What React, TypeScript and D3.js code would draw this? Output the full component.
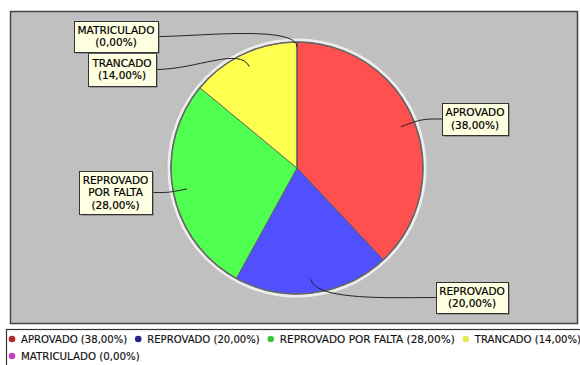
import { arc, pie, PieArcDatum } from 'd3';

const categories = ['APROVADO', 'REPROVADO', 'REPROVADO POR FALTA', 'TRANCADO', 'MATRICULADO'];
const percentages = [38, 20, 28, 14, 0];
const sliceColors = ['#FF5050', '#5050FF', '#50FF50', '#FFFF50', '#FF50FF'];
const legendColors = ['#B02828', '#23238C', '#3CC83C', '#E6E650', '#C040C0'];
// callout label lines, one entry per category
const calloutLines = [
  ['APROVADO', '(38,00%)'],
  ['REPROVADO', '(20,00%)'],
  ['REPROVADO', 'POR FALTA', '(28,00%)'],
  ['TRANCADO', '(14,00%)'],
  ['MATRICULADO', '(0,00%)'],
];

// box layout for the callouts (x, y, width, height)
const calloutBoxes = [
  [442, 103, 66, 32],
  [436, 282, 72, 31],
  [79, 171, 73, 43],
  [88, 53, 68, 33],
  [74, 21, 84, 31],
];

const fmt = (v: number) => `${v.toFixed(2).replace('.', ',')}%`;

export default function App() {
  const width = 580;
  const height = 365;
  const cx = 297;
  const cy = 168;
  const radius = 126;
  const font = '"DejaVu Sans", Verdana, sans-serif';

  const rows = categories.map((name, i) => ({ name, value: percentages[i], index: i }));
  const arcs = pie<typeof rows[number]>()
    .sort(null)
    .value((d) => d.value)(rows);
  const arcPath = arc<PieArcDatum<typeof rows[number]>>().innerRadius(0).outerRadius(radius);

  // legend flow layout
  const charW = 6.25;
  let cursor = 12;
  let line = 0;
  const legendItems = rows.map((d) => {
    const label = `${d.name} (${fmt(d.value)})`;
    const w = label.length * charW;
    if (cursor + 9 + w > width + 2) {
      cursor = 12;
      line += 1;
    }
    const item = { label, x: cursor, line, w, color: legendColors[d.index] };
    cursor += 9 + w + 11;
    return item;
  });

  return (
    <svg
      width={width}
      height={height}
      viewBox={`0 0 ${width} ${height}`}
      style={{ position: 'absolute', left: 0, top: 0, background: '#fff' }}
    >
      <rect x={10.5} y={11.5} width={567} height={312} fill="#C0C0C0" stroke="#444" strokeWidth={1.5} />

      <g transform={`translate(${cx}, ${cy})`}>
        <circle r={radius + 2} fill="none" stroke="#EDEDED" strokeWidth={3} />
        {arcs.map((a) => (
          <path key={a.data.name} d={arcPath(a) || ''} fill={sliceColors[a.data.index]} stroke="#5a5a5a" strokeWidth={0.8} />
        ))}
        <circle r={radius} fill="none" stroke="#666" strokeWidth={1.5} />
      </g>

      {arcs.map((a) => {
        const i = a.data.index;
        const [bx, by, bw, bh] = calloutBoxes[i];
        const mid = (a.startAngle + a.endAngle) / 2;
        const ux = Math.sin(mid);
        const uy = -Math.cos(mid);
        const er = radius * (a.data.value === 0 ? 0.96 : 0.89);
        const ex = cx + ux * er;
        const ey = cy + uy * er;
        const leftSide = bx + bw / 2 < cx;
        const sx = leftSide ? bx + bw : bx;
        const sy = by + bh / 2;
        const dir = leftSide ? 1 : -1;
        const reach = Math.min(40, Math.abs(ex - sx) * 0.45);
        const c1x = sx + dir * reach;
        const c2x = ex + ux * 22;
        const c2y = ey + uy * 22;
        const lines = calloutLines[i];
        const lh = 12.5;
        const top = by + bh / 2 - ((lines.length - 1) * lh) / 2 + 3.7;
        return (
          <g key={`c-${a.data.name}`}>
            <path
              d={`M${sx},${sy} C${c1x},${sy} ${c2x},${c2y} ${ex},${ey}`}
              fill="none"
              stroke="#222"
              strokeWidth={1}
            />
            <rect x={bx + 2} y={by + 2} width={bw} height={bh} fill="#7a7a7a" opacity={0.6} />
            <rect x={bx + 0.5} y={by + 0.5} width={bw} height={bh} fill="#FFFFE1" stroke="#333" strokeWidth={1} />
            {lines.map((t, k) => (
              <text
                key={t + k}
                x={bx + bw / 2}
                y={top + k * lh}
                textAnchor="middle"
                fontFamily={font}
                fontSize={10.5}
                fill="#000"
                stroke="#000"
                strokeWidth={0.2}
              >
                {t}
              </text>
            ))}
          </g>
        );
      })}

      <rect x={6.5} y={329.5} width={580} height={40} fill="#fff" stroke="#333" strokeWidth={1.2} />
      {legendItems.map((it) => {
        const y = 339 + it.line * 17;
        return (
          <g key={it.label}>
            <circle cx={it.x} cy={y} r={3.3} fill={it.color} />
            <text
              x={it.x + 9}
              y={y + 3.8}
              fontFamily={font}
              fontSize={10}
              fill="#111"
              stroke="#111"
              strokeWidth={0.15}
              textLength={it.w}
              lengthAdjust="spacingAndGlyphs"
            >
              {it.label}
            </text>
          </g>
        );
      })}
    </svg>
  );
}
